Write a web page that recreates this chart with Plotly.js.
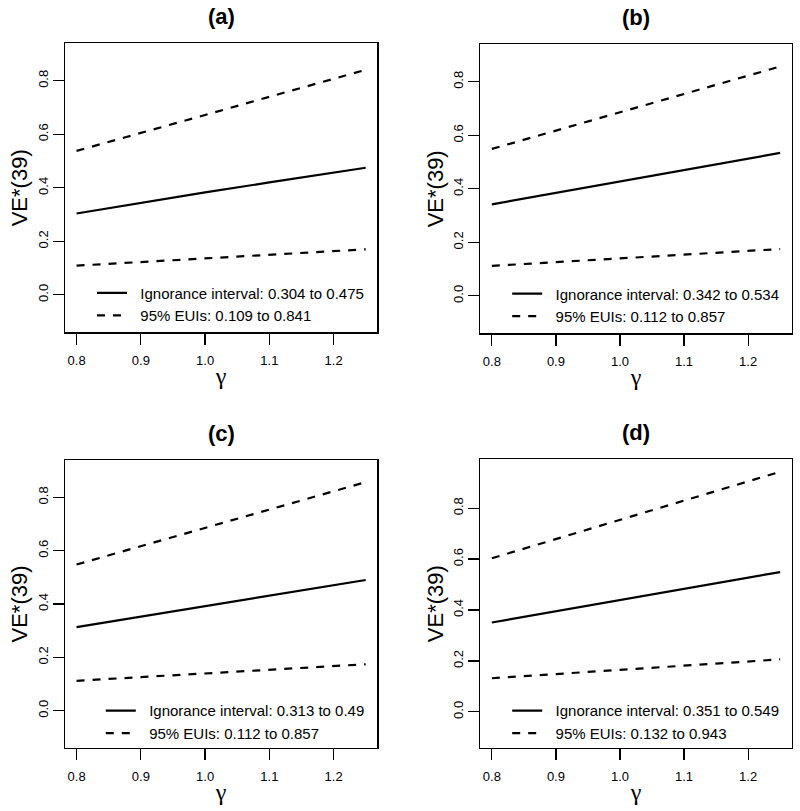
<!DOCTYPE html>
<html>
<head>
<meta charset="utf-8">
<script src="https://cdn.plot.ly/plotly-3.0.1.min.js"></script>
<style>html,body{margin:0;padding:0;background:#fff;}#chart{width:800px;height:811px;}</style>
</head>
<body>
<div id="chart"></div>
<script>
// ---- data ----
const gamma = [0.8, 0.9, 1.0, 1.1, 1.2, 1.25];
const panelTitles = ["(a)", "(b)", "(c)", "(d)"];

const ignA = [0.304, 0.344, 0.383, 0.420, 0.457, 0.475];
const hiA  = [0.538, 0.604, 0.672, 0.740, 0.807, 0.841];
const loA  = [0.109, 0.122, 0.136, 0.149, 0.163, 0.170];

const ignB = [0.342, 0.385, 0.428, 0.470, 0.513, 0.534];
const hiB  = [0.549, 0.617, 0.686, 0.754, 0.823, 0.857];
const loB  = [0.112, 0.126, 0.140, 0.154, 0.168, 0.175];

const ignC = [0.313, 0.352, 0.392, 0.431, 0.470, 0.490];
const hiC  = [0.548, 0.617, 0.685, 0.754, 0.823, 0.857];
const loC  = [0.112, 0.126, 0.140, 0.153, 0.167, 0.174];

const ignD = [0.351, 0.395, 0.439, 0.483, 0.527, 0.549];
const hiD  = [0.603, 0.679, 0.754, 0.830, 0.905, 0.943];
const loD  = [0.132, 0.148, 0.165, 0.181, 0.198, 0.206];

const ignLabels = ["Ignorance interval: 0.304 to 0.475", "Ignorance interval: 0.342 to 0.534",
                   "Ignorance interval: 0.313 to 0.49",  "Ignorance interval: 0.351 to 0.549"];
const euiLabels = ["95% EUIs: 0.109 to 0.841", "95% EUIs: 0.112 to 0.857",
                   "95% EUIs: 0.112 to 0.857", "95% EUIs: 0.132 to 0.943"];

const xTickVals = [0.8, 0.9, 1.0, 1.1, 1.2];
const xTickText = ["0.8", "0.9", "1.0", "1.1", "1.2"];
const yTickVals = [0.0, 0.2, 0.4, 0.6, 0.8];
const yTickText = ["0.0", "0.2", "0.4", "0.6", "0.8"];

// ---- build ----
const FONT = "Arial, 'Liberation Sans', Helvetica, sans-serif";
const ign = [ignA, ignB, ignC, ignD];
const hi = [hiA, hiB, hiC, hiD];
const lo = [loA, loB, loC, loD];

const xDomains = [[0.08125, 0.4716], [0.6004, 0.9896], [0.08125, 0.4716], [0.6004, 0.9896]];
const yDomains = [[0.5903, 0.9466], [0.5890, 0.9454], [0.0777, 0.4328], [0.0777, 0.4337]];
const yRanges = [[-0.14, 0.94], [-0.14, 0.94], [-0.14, 0.94], [-0.142, 0.992]];
const legendPos = [[0.115, 0.625], [0.634, 0.624], [0.126, 0.11], [0.634, 0.11]];
const PAD = "\u2007"; // small gap between legend sample and its text

const traces = [];
const layout = {
  width: 800, height: 811,
  margin: {l: 0, r: 0, t: 0, b: 0},
  paper_bgcolor: "#fff", plot_bgcolor: "#fff",
  font: {family: FONT, color: "#000"},
  annotations: []
};

for (let i = 0; i < 4; i++) {
  const s = i === 0 ? "" : String(i + 1);
  const xa = "x" + s, ya = "y" + s;
  const lg = i === 0 ? "legend" : "legend" + (i + 1);
  const dashLine = {color: "#000", width: 2.2, dash: "8px,8px"};
  traces.push({x: gamma, y: ign[i], xaxis: xa, yaxis: ya, mode: "lines", name: PAD + ignLabels[i],
               legend: lg, line: {color: "#000", width: 2.2}, hoverinfo: "skip"});
  traces.push({x: gamma, y: hi[i], xaxis: xa, yaxis: ya, mode: "lines", name: PAD + euiLabels[i],
               legend: lg, line: dashLine, hoverinfo: "skip"});
  traces.push({x: gamma, y: lo[i], xaxis: xa, yaxis: ya, mode: "lines", name: euiLabels[i],
               legend: lg, showlegend: false, line: dashLine, hoverinfo: "skip"});

  layout["xaxis" + s] = {
    domain: xDomains[i], anchor: ya, range: [0.782, 1.268],
    tickmode: "array", tickvals: xTickVals, ticktext: xTickText,
    ticks: "outside", ticklen: 11, tickwidth: 1.2, tickcolor: "#000",
    ticklabelstandoff: 5,
    showline: true, mirror: true, linecolor: "#000", linewidth: 1.3,
    showgrid: false, zeroline: false,
    tickfont: {size: 13, family: FONT, color: "#000"},
    title: {text: "γ", font: {size: 24, family: "'Liberation Serif', 'DejaVu Serif', serif", color: "#000"}, standoff: 0}
  };
  layout["yaxis" + s] = {
    domain: yDomains[i], anchor: xa, range: yRanges[i],
    tickmode: "array", tickvals: yTickVals, ticktext: yTickText, tickangle: -90,
    ticks: "outside", ticklen: 11, tickwidth: 1.2, tickcolor: "#000",
    showline: true, mirror: true, linecolor: "#000", linewidth: 1.3,
    showgrid: false, zeroline: false,
    tickfont: {size: 13, family: FONT, color: "#000"},
    title: {text: "VE*(39)", font: {size: 22, family: FONT, color: "#000"}, standoff: 1}
  };
  layout[lg] = {
    x: legendPos[i][0], y: legendPos[i][1], xanchor: "left", yanchor: "middle",
    bgcolor: "rgba(0,0,0,0)", borderwidth: 0,
    font: {size: 15, family: FONT, color: "#000"},
    itemwidth: 30, tracegroupgap: 0
  };
  layout.annotations.push({
    text: "<b>" + panelTitles[i] + "</b>", xref: xa + " domain", yref: ya + " domain",
    x: 0.5, y: 1, yanchor: "bottom", yshift: 12, showarrow: false,
    font: {size: 22, family: FONT, color: "#000"}
  });
}

Plotly.newPlot("chart", traces, layout, {staticPlot: true, displayModeBar: false});
</script>
</body>
</html>
